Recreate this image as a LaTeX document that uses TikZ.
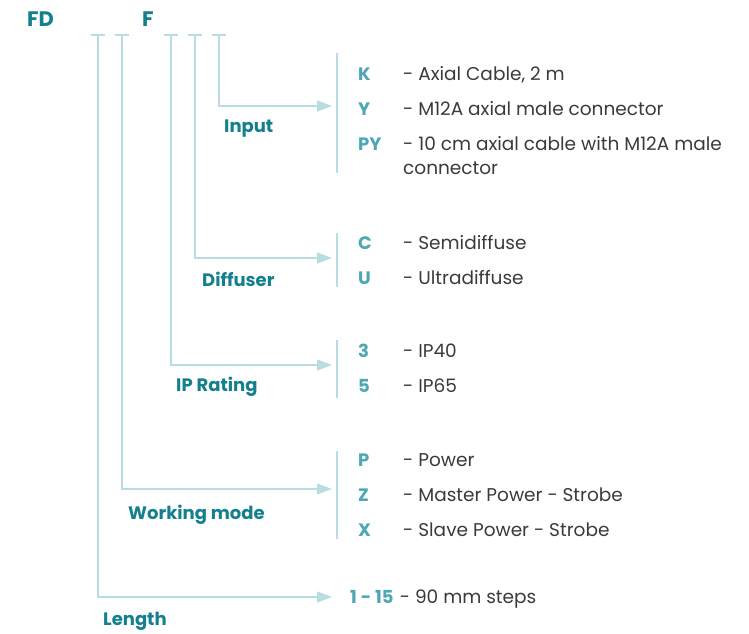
\documentclass[tikz,border=0pt]{standalone}
\usepackage{fontspec}
\setmainfont{Poppins}
\usetikzlibrary{arrows.meta,positioning}
\definecolor{labelteal}{HTML}{14808D}
\definecolor{codeteal}{HTML}{4DA7B4}
\definecolor{railblue}{HTML}{B8DCE1}
\definecolor{descgray}{HTML}{3A3A3A}

\begin{document}
\begin{tikzpicture}[x=1pt, y=-1pt,
  head/.style  = {anchor=base west, inner sep=0, text=labelteal, font=\fontsize{21}{24}\selectfont\bfseries},
  group/.style = {anchor=base west, inner sep=0, text=labelteal, font=\fontsize{18}{22}\selectfont\bfseries},
  code/.style  = {anchor=base west, inner sep=0, text=codeteal, font=\fontsize{18}{24}\selectfont\bfseries},
  desc/.style  = {anchor=base west, inner sep=0, text=descgray, align=left, font=\fontsize{18.5}{24}\selectfont},
  rail/.style  = {draw=railblue, line width=1.3pt},
  link/.style  = {rail, -{Triangle[length=15pt, width=11pt]}}
]
\useasboundingbox (0,0) rectangle (749,633);

% code head
\node[head] (fd) at (27,26)  {FD};
\node[head] (f)  at (142,26) {F};

% ticks under the code
\foreach \x/\n in {98/len, 122/mode, 171/ip, 195/dif, 219/inp} {
  \coordinate (\n-top) at (\x,35);
  \draw[rail] (\x-7,35) -- (\x+7,35);
}

% where the rails turn and end
\coordinate (inp-turn)  at (219,106);
\coordinate (dif-turn)  at (195,258);
\coordinate (ip-turn)   at (171,365);
\coordinate (mode-turn) at (122,489);
\coordinate (len-turn)  at (98,597);
\coordinate (inp-end)   at (332,106);
\coordinate (dif-end)   at (332,258);
\coordinate (ip-end)    at (332,365);
\coordinate (mode-end)  at (332,489);
\coordinate (len-end)   at (332,597);

\draw[link] (inp-top)  -- (inp-turn)  -- (inp-end);
\draw[link] (dif-top)  -- (dif-turn)  -- (dif-end);
\draw[link] (ip-top)   -- (ip-turn)   -- (ip-end);
\draw[link] (mode-top) -- (mode-turn) -- (mode-end);
\draw[link] (len-top)  -- (len-turn)  -- (len-end);

% group names
\node[group] (input)    at (224,132) {Input};
\node[group] (diffuser) at (202,286) {Diffuser};
\node[group] (iprating) at (176,391) {IP Rating};
\node[group] (working)  at (128,519) {Working mode};
\node[group] (length)   at (103,625) {Length};

% brackets
\coordinate (inp-b1)  at (337,53);  \coordinate (inp-b2)  at (337,173);
\coordinate (dif-b1)  at (337,233); \coordinate (dif-b2)  at (337,287);
\coordinate (ip-b1)   at (337,340); \coordinate (ip-b2)   at (337,398);
\coordinate (mode-b1) at (337,451); \coordinate (mode-b2) at (337,539);
\draw[rail] (inp-b1) -- (inp-b2);
\draw[rail] (dif-b1) -- (dif-b2);
\draw[rail] (ip-b1) -- (ip-b2);
\draw[rail] (mode-b1) -- (mode-b2);

% options
\node[code] (k)  at (358,80)  {K};
\node[desc] (kd) at (403,80)  {- Axial Cable, 2 m};
\node[code] (y)  at (358,115) {Y};
\node[desc] (yd) at (403,115) {- M12A axial male connector};
\node[code] (py) at (358,150) {PY};
\node[desc] (pyd) at (403,174) {- 10 cm axial cable with M12A male\\connector};

\node[code] (c)  at (358,249) {C};
\node[desc] (cd) at (403,249) {- Semidiffuse};
\node[code] (u)  at (358,284) {U};
\node[desc] (ud) at (403,284) {- Ultradiffuse};

\node[code] (three) at (358,357) {3};
\node[desc] (threed) at (403,357) {- IP40};
\node[code] (five) at (358,392) {5};
\node[desc] (fived) at (403,392) {- IP65};

\node[code] (p)  at (358,466) {P};
\node[desc] (pd) at (403,466) {- Power};
\node[code] (z)  at (358,501) {Z};
\node[desc] (zd) at (403,501) {- Master Power - Strobe};
\node[code] (x)  at (358,536) {X};
\node[desc] (xd) at (403,536) {- Slave Power - Strobe};

\node[code] (range) at (350,603) {1 - 15};
\node[desc, right=6pt of range.base east, anchor=base west] (ranged) {- 90 mm steps};
\end{tikzpicture}
\end{document}
